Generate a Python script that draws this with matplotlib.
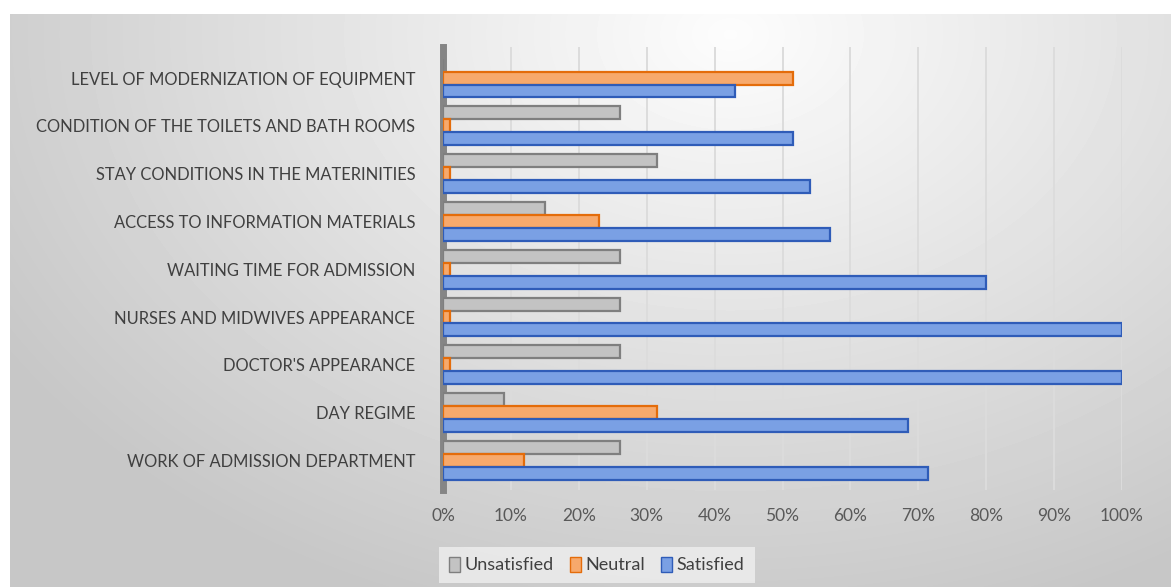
import matplotlib.pyplot as plt
import numpy as np
from matplotlib.patches import Patch

# categories, bottom to top
categories = [
    "WORK OF ADMISSION DEPARTMENT",
    "DAY REGIME",
    "DOCTOR'S APPEARANCE",
    "NURSES AND MIDWIVES APPEARANCE",
    "WAITING TIME FOR ADMISSION",
    "ACCESS TO INFORMATION MATERIALS",
    "STAY CONDITIONS IN THE MATERINITIES",
    "CONDITION OF THE TOILETS AND BATH ROOMS",
    "LEVEL OF MODERNIZATION OF EQUIPMENT",
]
unsatisfied = [26, 9, 26, 26, 26, 15, 31.5, 26, 0]
neutral = [12, 31.5, 1, 1, 1, 23, 1, 1, 51.5]
satisfied = [71.5, 68.5, 100, 100, 80, 57, 54, 51.5, 43]
x_ticks = [0, 10, 20, 30, 40, 50, 60, 70, 80, 90, 100]

plt.rcParams['font.family'] = ['Lato', 'DejaVu Sans']

fig = plt.figure(figsize=(11.71, 5.87), dpi=100)
fig.patch.set_facecolor('white')

# gradient background panel
bg = fig.add_axes([10 / 1171, 0, 1 - 10 / 1171, 1 - 14 / 587])
bg.set_axis_off()
h, w = 573, 1161
yy, xx = np.mgrid[0:h, 0:w]
d = np.sqrt((xx - 720) ** 2 + ((yy - 20) * 1.4) ** 2)
t = np.clip(d / 850, 0, 1)
img = 0.99 - t * 0.21
bg.imshow(img, cmap='gray', vmin=0, vmax=1, aspect='auto', interpolation='bilinear')

ax = fig.add_axes([443 / 1171, 1 - 490 / 587, (1122 - 443) / 1171, (490 - 47) / 587])
ax.patch.set_alpha(0)

y = np.arange(len(categories))
bh = 0.27
ax.barh(y + bh, unsatisfied, height=bh, color='#c3c3c3', edgecolor='#7f7f7f', linewidth=1.6, label='Unsatisfied', zorder=3)
ax.barh(y, neutral, height=bh, color='#f7a96c', edgecolor='#e46c0a', linewidth=1.6, label='Neutral', zorder=3)
ax.barh(y - bh, satisfied, height=bh, color='#7aa0e4', edgecolor='#2f5cb8', linewidth=1.6, label='Satisfied', zorder=3)

ax.set_xlim(0, 100)
ax.set_ylim(-0.62, 8.65)
ax.set_xticks(x_ticks)
ax.set_xticklabels([f"{v}%" for v in x_ticks], color='#595959', fontsize=12.5)
ax.set_yticks(y)
ax.set_yticklabels(categories, color='#404040', fontsize=11.9)
ax.tick_params(axis='both', length=0)
ax.tick_params(axis='x', pad=13)
ax.tick_params(axis='y', pad=20)
ax.grid(axis='x', color='#dcdcdc', linewidth=1.4, zorder=0)
for s in ['top', 'right', 'bottom']:
    ax.spines[s].set_visible(False)
ax.spines['left'].set_color('#858585')
ax.spines['left'].set_linewidth(5)

handles = [
    Patch(facecolor='#c3c3c3', edgecolor='#7f7f7f', label='Unsatisfied'),
    Patch(facecolor='#f7a96c', edgecolor='#e46c0a', label='Neutral'),
    Patch(facecolor='#7aa0e4', edgecolor='#2f5cb8', label='Satisfied'),
]
leg = fig.legend(handles=handles, loc='center', bbox_to_anchor=(597 / 1171, 1 - 565 / 587), ncol=3,
                 frameon=True, fontsize=13, handlelength=0.6, handleheight=0.9, handletextpad=0.25,
                 columnspacing=0.9, borderpad=0.55, fancybox=False)
leg.get_frame().set_facecolor('#efefef')
leg.get_frame().set_edgecolor('none')
for txt in leg.get_texts():
    txt.set_color('#404040')

fig.savefig('out.png', dpi=100)
